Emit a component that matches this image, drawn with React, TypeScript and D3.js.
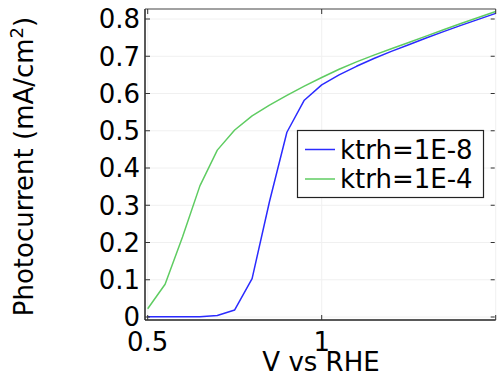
import React from "react";
import * as d3 from "d3";

const voltages = [0.5, 0.55, 0.6, 0.65, 0.7, 0.75, 0.8, 0.85, 0.9, 0.95, 1.0, 1.05, 1.1, 1.15, 1.2, 1.25, 1.3, 1.35, 1.4, 1.45, 1.5];
const ktrh1e8 = [0.001, 0.001, 0.001, 0.001, 0.004, 0.019, 0.103, 0.31, 0.496, 0.582, 0.623, 0.65, 0.673, 0.694, 0.713, 0.731, 0.749, 0.766, 0.783, 0.799, 0.815];
const ktrh1e4 = [0.022, 0.088, 0.215, 0.352, 0.448, 0.502, 0.54, 0.569, 0.595, 0.62, 0.643, 0.665, 0.685, 0.703, 0.72, 0.737, 0.754, 0.771, 0.788, 0.804, 0.82];
const seriesNames = ["ktrh=1E-8", "ktrh=1E-4"];
const seriesColors = ["#2b2bff", "#5fcc62"];
const xTicks = [0.5, 1, 1.5];
const xTickLabels = ["0.5", "1", ""];
const yTicks = [0, 0.1, 0.2, 0.3, 0.4, 0.5, 0.6, 0.7, 0.8];
const yTickLabels = ["0", "0.1", "0.2", "0.3", "0.4", "0.5", "0.6", "0.7", "0.8"];

const W = 497;
const H = 373;
const left = 145;
const top = 9;
const bottom = 320;
const FONT = "DejaVu Sans";
const FS = 26;

export default function App() {
  const x = d3.scaleLinear().domain([0.5, 1.5]).range([147.7, 495.7]);
  const y = d3.scaleLinear().domain([0, 0.8]).range([317, 19]);
  const line = d3
    .line<number>()
    .x((_, i) => x(voltages[i]))
    .y((d) => y(d));
  const series = [ktrh1e8, ktrh1e4];
  const right = x(1.5);
  const tick = 5;

  return (
    <svg
      width={W}
      height={H}
      style={{ position: "absolute", left: 0, top: 0, background: "#fff" }}
      fontFamily={FONT}
    >
      <defs>
        <clipPath id="plot">
          <rect x={left} y={top} width={right - left + 2} height={bottom - top} />
        </clipPath>
      </defs>
      <rect x={0} y={0} width={W} height={H} fill="#fff" />
      {/* grid */}
      {yTicks.map((t) => (
        <line key={"gy" + t} x1={left} x2={right} y1={y(t)} y2={y(t)} stroke="#f0f0f0" strokeWidth={1} />
      ))}
      {xTicks.map((t) => (
        <line key={"gx" + t} x1={x(t)} x2={x(t)} y1={top} y2={bottom} stroke="#f0f0f0" strokeWidth={1} />
      ))}
      {/* series */}
      <g clipPath="url(#plot)">
        {series.map((s, i) => (
          <path key={i} d={line(s) || ""} fill="none" stroke={seriesColors[i]} strokeWidth={1.5} strokeLinejoin="round" />
        ))}
      </g>
      {/* axes frame */}
      <line x1={left} x2={left} y1={top} y2={bottom} stroke="#222" strokeWidth={1.5} />
      <line x1={left} x2={right} y1={bottom} y2={bottom} stroke="#222" strokeWidth={1.5} />
      <line x1={left} x2={right} y1={top} y2={top} stroke="#444" strokeWidth={1.2} />
      {/* ticks */}
      {yTicks.map((t) => (
        <g key={"ty" + t}>
          <line x1={left} x2={left + tick} y1={y(t)} y2={y(t)} stroke="#333" strokeWidth={1} />
          <line x1={right - tick} x2={right - 1} y1={y(t)} y2={y(t)} stroke="#333" strokeWidth={1} />
        </g>
      ))}
      {xTicks.map((t) => (
        <g key={"tx" + t}>
          <line x1={x(t)} x2={x(t)} y1={bottom} y2={bottom - tick} stroke="#333" strokeWidth={1} />
          <line x1={x(t)} x2={x(t)} y1={top} y2={top + tick} stroke="#333" strokeWidth={1} />
        </g>
      ))}
      {/* tick labels */}
      {yTicks.map((t, i) => (
        <text key={"ly" + t} x={140} y={y(t)} dy="0.36em" textAnchor="end" fontSize={FS} fill="#000">
          {yTickLabels[i]}
        </text>
      ))}
      {xTicks.map((t, i) =>
        xTickLabels[i] ? (
          <text key={"lx" + t} x={x(t)} y={351} textAnchor="middle" fontSize={FS} fill="#000">
            {xTickLabels[i]}
          </text>
        ) : null
      )}
      {/* axis titles */}
      <text x={321} y={371} textAnchor="middle" fontSize={FS} fill="#000">
        V vs RHE
      </text>
      <text
        transform={`translate(33,${(top + bottom) / 2 + 2}) rotate(-90)`}
        textAnchor="middle"
        fontSize={FS}
        fill="#000"
      >
        Photocurrent (mA/cm<tspan dy={-10} fontSize={18}>2</tspan>
        <tspan dy={10}>)</tspan>
      </text>
      {/* legend */}
      <rect x={297.5} y={130.5} width={186} height={67} fill="#fff" stroke="#222" strokeWidth={1.2} />
      {seriesNames.map((n, i) => (
        <g key={n}>
          <line x1={305} x2={335} y1={149.5 + i * 29.5} y2={149.5 + i * 29.5} stroke={seriesColors[i]} strokeWidth={1.5} />
          <text x={340} y={149.5 + i * 29.5} dy="0.36em" fontSize={FS} fill="#000">
            {n}
          </text>
        </g>
      ))}
    </svg>
  );
}
